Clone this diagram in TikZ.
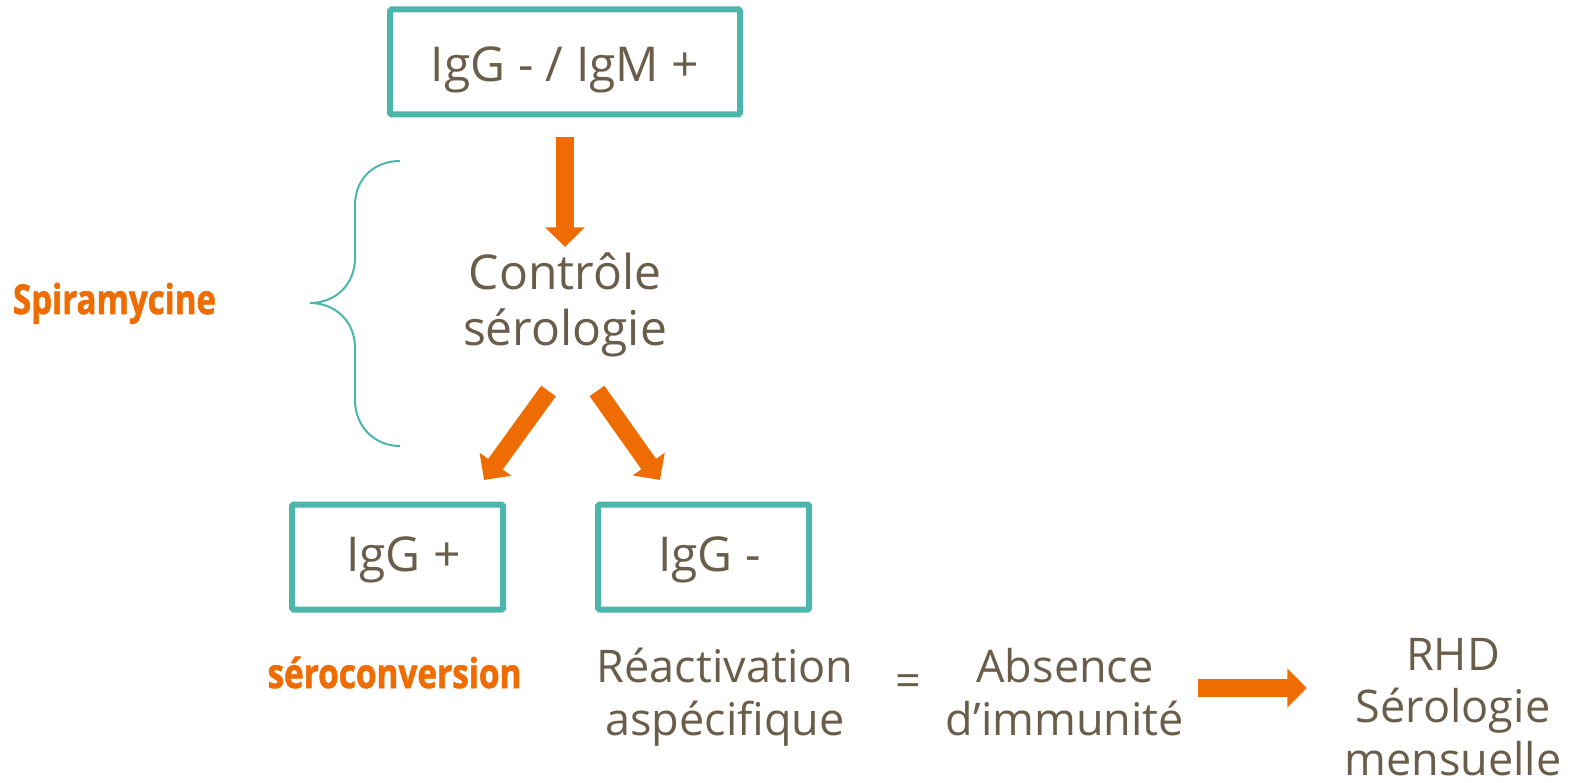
\documentclass[tikz,border=0pt]{standalone}
\usepackage{fontspec}
\usepackage{graphicx}
\setmainfont{Open Sans}
\newfontfamily\notefont{Open Sans}[BoldFeatures={FakeBold=1.6}]
\usetikzlibrary{arrows.meta}
\definecolor{inkbrown}{RGB}{106,94,75}
\definecolor{frameteal}{RGB}{77,182,172}
\definecolor{flameorange}{RGB}{239,108,0}
\newcommand\bodysize{\fontsize{48pt}{55pt}\selectfont}
\newcommand\lowsize{\fontsize{45pt}{52.3pt}\selectfont}
\newcommand\notesize{\notefont\fontsize{41pt}{44pt}\selectfont\bfseries}
\tikzset{
  frame/.style={draw=frameteal, line width=6pt, rounded corners=1.5pt,
    text=inkbrown, font=\bodysize, inner sep=0pt},
  plain/.style={text=inkbrown, font=\bodysize, align=center, inner sep=0pt},
  lower/.style={plain, font=\lowsize},
  note/.style={text=flameorange, font=\notesize, inner sep=0pt},
  fat arrow/.style={draw=flameorange, line width=18pt,
    -{Triangle[length=19.5pt, width=38pt]}},
  brace line/.style={draw=frameteal, line width=2pt},
}
\begin{document}
\begin{tikzpicture}[x=1pt, y=-1pt]
\fill[white] (0,0) rectangle (1579,783);

% boxes
\node[frame, minimum width=350pt, minimum height=105pt,
      text height=45pt, text depth=5pt] (top) at (565,62) {IgG - / IgM +};
\node[frame, minimum width=211pt, minimum height=105pt,
      text height=36pt, text depth=8pt] (pos) at (397.5,557) {\hspace*{12pt}IgG +};
\node[frame, minimum width=211pt, minimum height=105pt,
      text height=36pt, text depth=8pt] (neg) at (703.5,557) {\hspace*{12pt}IgG -};

% free text (base anchor = baseline of the last line)
\node[plain, anchor=base] (ctrl) at (565,345) {Contrôle\\sérologie};
\node[note, anchor=base] (spira) at (114.5,314) {\resizebox{203pt}{\height}{Spiramycine}};
\node[note, anchor=base] (sero) at (394.5,688) {\resizebox{254pt}{\height}{séroconversion}};
\node[lower, anchor=base] (react) at (725,735) {Réactivation\\aspécifique};
\node[lower, anchor=base] (eq) at (908,696) {=};
\node[lower, anchor=base] (abs) at (1065,735) {Absence\\d’immunité};
\node[lower, anchor=base] (rhd) at (1453,775) {RHD\\Sérologie\\mensuelle};

% brace
\draw[brace line] (400,161) .. controls (375,161) and (355,178) .. (355,205)
  -- (355,258) .. controls (355,285) and (335,303) .. (310,303)
  .. controls (335,303) and (355,321) .. (355,348)
  -- (355,400) .. controls (355,427) and (375,446) .. (400,446);

% arrows
\path ([yshift=98pt]ctrl.base) coordinate (ctrltop);
\path ([yshift=47pt]abs.base) coordinate (absmid);
\draw[fat arrow, shorten <=19.5pt] (top.south) -- (top.south |- ctrltop);
\draw[fat arrow] ([xshift=-16.5pt, yshift=-46pt]ctrl.base) -- ([xshift=86.5pt, yshift=21.5pt]pos.north);
\draw[fat arrow] ([xshift=32pt, yshift=-46pt]ctrl.base) -- ([xshift=-43.5pt, yshift=21.5pt]neg.north);
\draw[fat arrow, shorten <=14pt, shorten >=37.5pt] (absmid -| abs.east) -- (absmid -| rhd.west);
\end{tikzpicture}
\end{document}
